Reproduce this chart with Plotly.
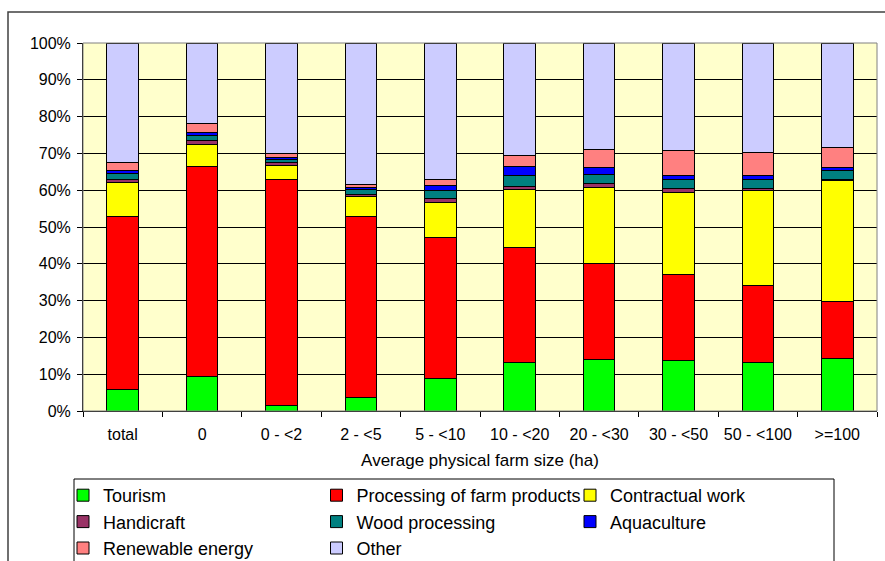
import plotly.graph_objects as go

# Farm size classes (x-axis categories)
size_classes = ["total", "0", "0 - <2", "2 - <5", "5 - <10", "10 - <20",
                "20 - <30", "30 - <50", "50 - <100", ">=100"]

# Share of each other gainful activity, in percent of holdings
tourism      = [5.9, 9.4, 1.4, 3.8, 8.7, 13.2, 14.0, 13.7, 13.2, 14.3]
processing   = [46.9, 57.1, 61.6, 49.0, 38.4, 31.2, 26.2, 23.4, 21.0, 15.5]
contractual  = [9.3, 5.9, 3.7, 5.5, 9.5, 15.7, 20.6, 22.3, 25.7, 32.9]
handicraft   = [0.7, 1.1, 0.7, 0.6, 1.1, 1.0, 1.1, 1.0, 0.5, 0.3]
wood         = [1.7, 1.3, 0.9, 1.3, 2.1, 2.9, 2.5, 2.6, 2.6, 2.3]
aquaculture  = [0.9, 0.9, 0.7, 0.6, 1.4, 2.5, 1.8, 1.1, 0.9, 1.0]
renewable    = [2.0, 2.3, 0.9, 0.8, 1.8, 3.0, 4.8, 6.6, 6.4, 5.4]
other        = [32.6, 22.0, 30.1, 38.4, 37.0, 30.5, 29.0, 29.3, 29.7, 28.3]

series_names = ["Tourism", "Processing of farm products", "Contractual work",
                "Handicraft", "Wood processing", "Aquaculture",
                "Renewable energy", "Other"]
series_values = [tourism, processing, contractual, handicraft, wood,
                 aquaculture, renewable, other]
series_colors = ["#00FF00", "#FF0000", "#FFFF00", "#993366", "#008080",
                 "#0000FF", "#FF8080", "#CCCCFF"]

y_ticks = [0, 10, 20, 30, 40, 50, 60, 70, 80, 90, 100]
y_tick_text = [f"{v}%" for v in y_ticks]

FONT = "Liberation Sans, Arial, sans-serif"

fig = go.Figure()
for name, vals, col in zip(series_names, series_values, series_colors):
    fig.add_trace(go.Bar(
        x=size_classes, y=vals, name=name,
        marker=dict(color=col, line=dict(color="#000000", width=1)),
    ))

# Page geometry (pixels) used to place frame, legend box and border
W, H = 885, 561
ML, MR, MT, MB = 83, 8, 43, 150
pw, ph = W - ML - MR, H - MT - MB


def px_x(p):
    return (p - ML) / pw


def px_y(p):
    return (H - MB - p) / ph


shapes = [
    # legend box
    dict(type="rect", xref="paper", yref="paper",
         x0=px_x(74), x1=px_x(834), y0=px_y(600), y1=px_y(479),
         line=dict(color="#000000", width=1), fillcolor="#FFFFFF",
         layer="below"),
    # plot-area frame
    dict(type="rect", xref="paper", yref="paper", x0=0, x1=1, y0=0, y1=1,
         line=dict(color="#808080", width=1), layer="above"),
    # outer chart border (left and top edges)
    dict(type="path", xref="paper", yref="paper",
         path=f"M {px_x(8)},{px_y(580)} L {px_x(8)},{px_y(12)} L {px_x(900)},{px_y(12)}",
         line=dict(color="#404040", width=1.5)),
]

fig.update_layout(
    width=W, height=H,
    margin=dict(l=ML, r=MR, t=MT, b=MB, pad=0, autoexpand=False),
    barmode="stack", bargap=0.6,
    paper_bgcolor="#FFFFFF", plot_bgcolor="#FFFFCC",
    font=dict(family=FONT, size=16, color="#000000"),
    showlegend=True,
    legend=dict(
        orientation="h", traceorder="normal",
        x=px_x(63), y=px_y(477), xanchor="left", yanchor="top",
        bgcolor="rgba(0,0,0,0)", borderwidth=0,
        font=dict(family=FONT, size=18, color="#000000"),
        entrywidth=208.5, entrywidthmode="pixels", itemwidth=30,
    ),
    shapes=shapes,
)

fig.update_xaxes(
    type="category", showgrid=False, showline=True, linecolor="#000000",
    linewidth=1, ticks="outside", tickson="boundaries", ticklen=5,
    tickcolor="#000000", ticklabelstandoff=9, automargin=False,
    tickfont=dict(size=16),
    title=dict(text="Average physical farm size (ha)", font=dict(size=17),
               standoff=11),
)
fig.update_yaxes(
    range=[0, 100], tickvals=y_ticks, ticktext=y_tick_text,
    showgrid=True, gridcolor="#000000", gridwidth=1,
    showline=True, linecolor="#000000", linewidth=1,
    ticks="outside", ticklen=5, tickcolor="#000000",
    ticklabelstandoff=3, automargin=False, zeroline=False,
    tickfont=dict(size=16),
)

fig.write_html("out.html")
